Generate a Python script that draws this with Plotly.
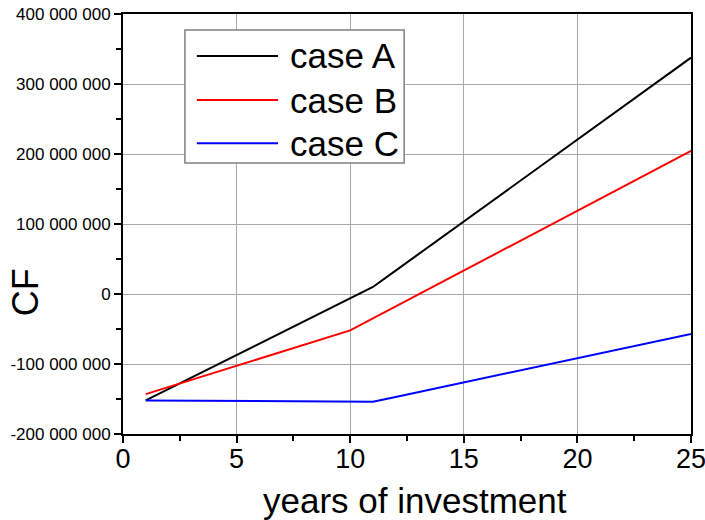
import plotly.graph_objects as go

# Cumulative cash flow (CF) over the years of investment
years = list(range(1, 26))

case_a = [-152e6, -135.8e6, -119.6e6, -103.4e6, -87.2e6, -71e6, -54.8e6, -38.6e6,
          -22.4e6, -6.2e6, 10e6, 33.4e6, 56.8e6, 80.2e6, 103.6e6, 127e6, 150.4e6,
          173.8e6, 197.2e6, 220.6e6, 244e6, 267.4e6, 290.8e6, 314.2e6, 337.6e6]
case_b = [-143e6, -132.9e6, -122.8e6, -112.7e6, -102.6e6, -92.5e6, -82.4e6, -72.3e6,
          -62.2e6, -52e6, -34.9e6, -17.8e6, -0.7e6, 16.4e6, 33.5e6, 50.6e6, 67.7e6,
          84.8e6, 101.9e6, 119e6, 136.1e6, 153.2e6, 170.3e6, 187.4e6, 204.5e6]
case_c = [-152e6, -152.2e6, -152.4e6, -152.6e6, -152.8e6, -153e6, -153.2e6, -153.4e6,
          -153.6e6, -153.8e6, -154e6, -147.1e6, -140.2e6, -133.3e6, -126.4e6, -119.5e6,
          -112.6e6, -105.7e6, -98.8e6, -91.9e6, -85e6, -78.1e6, -71.2e6, -64.3e6, -57e6]

series_names = ["case A", "case B", "case C"]
series_values = [case_a, case_b, case_c]
series_colors = ["#000000", "#ff0000", "#0000ff"]

x_ticks = [0, 5, 10, 15, 20, 25]
y_ticks = [-200e6, -100e6, 0, 100e6, 200e6, 300e6, 400e6]


def space_thousands(v):
    s = f"{abs(int(v)):,}".replace(",", " ")
    return ("-" + s) if v < 0 else s


y_ticktext = [space_thousands(v) for v in y_ticks]

FONT = "Liberation Sans, Arial, sans-serif"

fig = go.Figure()
for name, vals, col in zip(series_names, series_values, series_colors):
    fig.add_trace(go.Scatter(x=years, y=vals, mode="lines", name=name,
                             line=dict(color=col, width=2), showlegend=False))

axis_common = dict(
    showline=True, linecolor="black", linewidth=2, mirror=True,
    ticks="outside", ticklen=7, tickwidth=1.5, tickcolor="black",
    showgrid=True, gridcolor="#a8a8a8", gridwidth=1, zeroline=False,
    automargin=False, ticklabeloverflow="allow",
)

fig.update_xaxes(range=[0, 25], tickvals=x_ticks, ticktext=[str(t) for t in x_ticks],
                 tickfont=dict(family=FONT, size=27, color="black"),
                 ticklabelstandoff=-7,
                 minor=dict(ticks="outside", dtick=2.5, ticklen=5, tickcolor="black",
                            showgrid=False),
                 **axis_common)
fig.update_yaxes(range=[-200e6, 400e6], tickvals=y_ticks, ticktext=y_ticktext,
                 tickfont=dict(family=FONT, size=17, color="black"),
                 minor=dict(ticks="outside", dtick=50e6, ticklen=5, tickcolor="black",
                            showgrid=False),
                 **axis_common)

# Axis titles
fig.add_annotation(xref="paper", yref="paper", x=0.514, y=-0.158, text="years of investment",
                   showarrow=False, xanchor="center", yanchor="middle",
                   font=dict(family=FONT, size=35, color="black"))
fig.add_annotation(xref="paper", yref="paper", x=-0.172, y=0.338, text="CF",
                   textangle=-90, showarrow=False, xanchor="center", yanchor="middle",
                   font=dict(family=FONT, size=36, color="black"))

# Legend box drawn in paper coordinates
fig.add_shape(type="rect", xref="paper", yref="paper",
              x0=0.109, x1=0.495, y0=0.645, y1=0.962,
              line=dict(color="#808080", width=1.5), fillcolor="white", layer="above")
row_y = [0.900, 0.795, 0.692]
for name, col, ry in zip(series_names, series_colors, row_y):
    fig.add_shape(type="line", xref="paper", yref="paper",
                  x0=0.130, x1=0.273, y0=ry, y1=ry,
                  line=dict(color=col, width=2), layer="above")
    fig.add_annotation(xref="paper", yref="paper", x=0.291, y=ry, text=name,
                       showarrow=False, xanchor="left", yanchor="middle",
                       font=dict(family=FONT, size=35, color="black"))

fig.update_layout(
    width=705, height=520,
    margin=dict(l=123, r=14, t=14, b=86),
    plot_bgcolor="white", paper_bgcolor="white",
    font=dict(family=FONT, color="black"),
)

fig.write_html("out.html")
